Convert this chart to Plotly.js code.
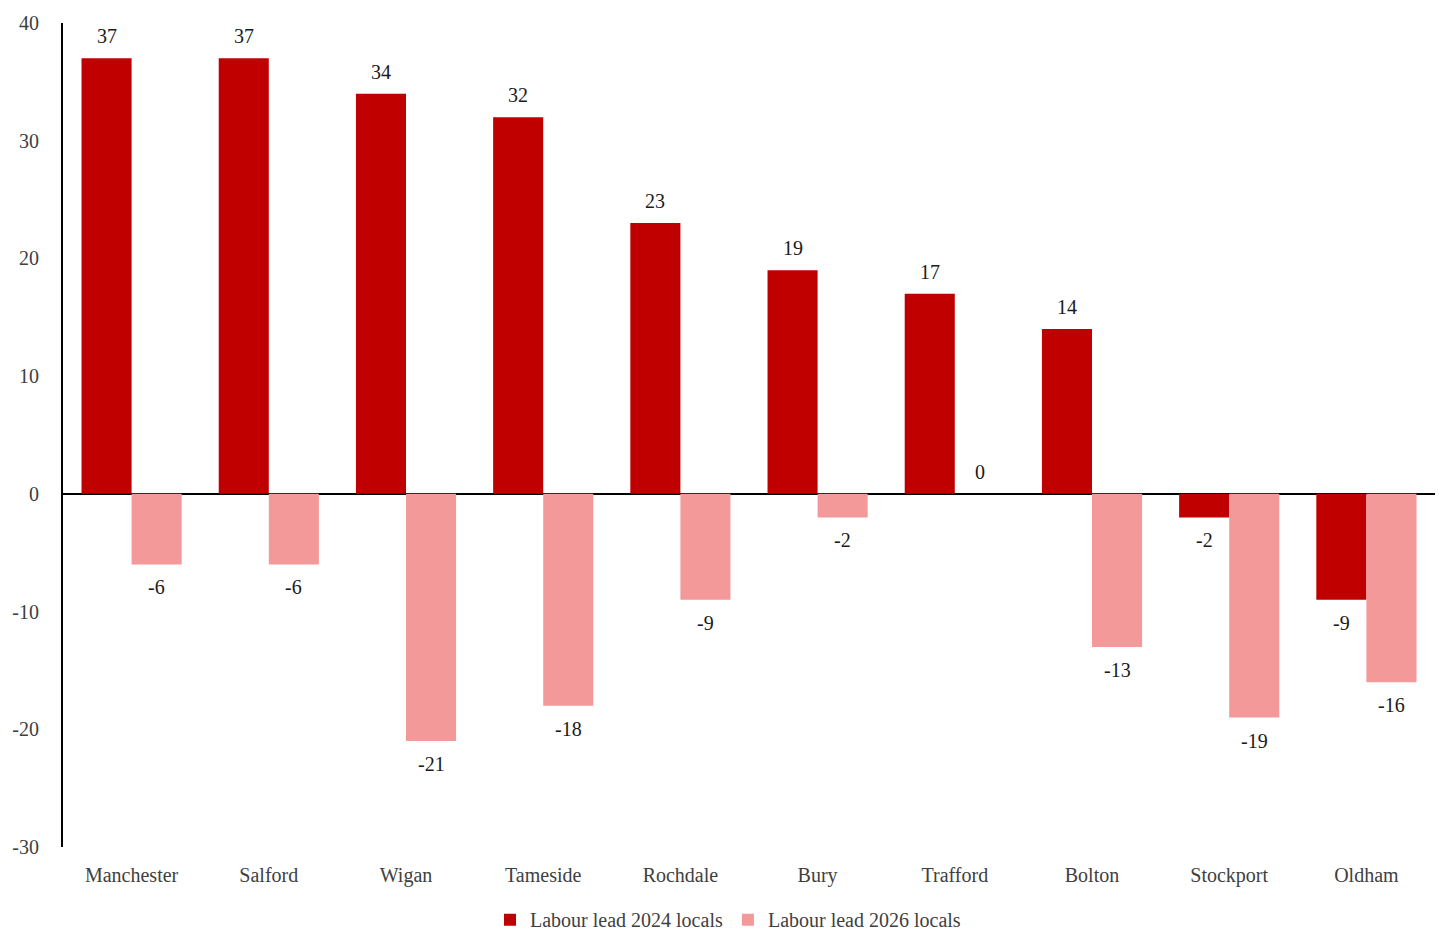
<!DOCTYPE html>
<html>
<head>
<meta charset="utf-8">
<script src="https://cdn.plot.ly/plotly-3.0.1.min.js"></script>
<style>
  html, body { margin: 0; padding: 0; background: #fff; }
  #chart { width: 1456px; height: 952px; }
</style>
</head>
<body>
<div id="chart"></div>
<script>
var councils = ["Manchester", "Salford", "Wigan", "Tameside", "Rochdale", "Bury", "Trafford", "Bolton", "Stockport", "Oldham"];
var lead2024 = [37, 37, 34, 32, 23, 19, 17, 14, -2, -9];
var lead2026 = [-6, -6, -21, -18, -9, -2, 0, -13, -19, -16];
var yTicks = [-30, -20, -10, 0, 10, 20, 30, 40];

var serif = "Liberation Serif, DejaVu Serif, serif";
var labelFont = { family: serif, size: 20, color: "#1a1a1a" };

var s2024 = {
  x: councils,
  y: lead2024,
  type: "bar",
  name: "Labour lead 2024 locals",
  marker: { color: "#C00000" },
  hoverinfo: "x+y"
};

var s2026 = {
  x: councils,
  y: lead2026,
  type: "bar",
  name: "Labour lead 2026 locals",
  marker: { color: "#F4999A" },
  hoverinfo: "x+y"
};

// value labels, placed just past the end of each bar
function labelsFor(values, xshift) {
  return values.map(function (v, i) {
    return {
      x: councils[i],
      y: v,
      xref: "x",
      yref: "y",
      text: String(v),
      showarrow: false,
      xshift: xshift,
      yshift: v >= 0 ? 22 : -23,
      font: labelFont
    };
  });
}

var layout = {
  width: 1456,
  height: 952,
  margin: { l: 63, r: 21, t: 23, b: 105 },
  paper_bgcolor: "#fff",
  plot_bgcolor: "#fff",
  font: { family: serif, size: 20, color: "#404040" },
  barmode: "group",
  bargap: 0.27,
  bargroupgap: 0,
  showlegend: true,
  legend: {
    orientation: "h",
    x: 0.5,
    xref: "container",
    xanchor: "center",
    y: 0.034,
    yref: "container",
    yanchor: "middle",
    font: { size: 20, color: "#404040" }
  },
  annotations: labelsFor(lead2024, -25).concat(labelsFor(lead2026, 25)),
  xaxis: {
    showgrid: false,
    showline: false,
    zeroline: false,
    ticks: "",
    ticklabelstandoff: 14,
    tickfont: { size: 20, color: "#404040" }
  },
  yaxis: {
    range: [-30, 40],
    tickvals: yTicks,
    ticktext: yTicks.map(String),
    showgrid: false,
    showline: true,
    linecolor: "#000",
    linewidth: 2,
    zeroline: true,
    zerolinecolor: "#000",
    zerolinewidth: 2,
    ticks: "",
    ticklabelstandoff: 18,
    tickfont: { size: 20, color: "#404040" }
  }
};

Plotly.newPlot("chart", [s2024, s2026], layout, { displayModeBar: false, responsive: false });
</script>
</body>
</html>
